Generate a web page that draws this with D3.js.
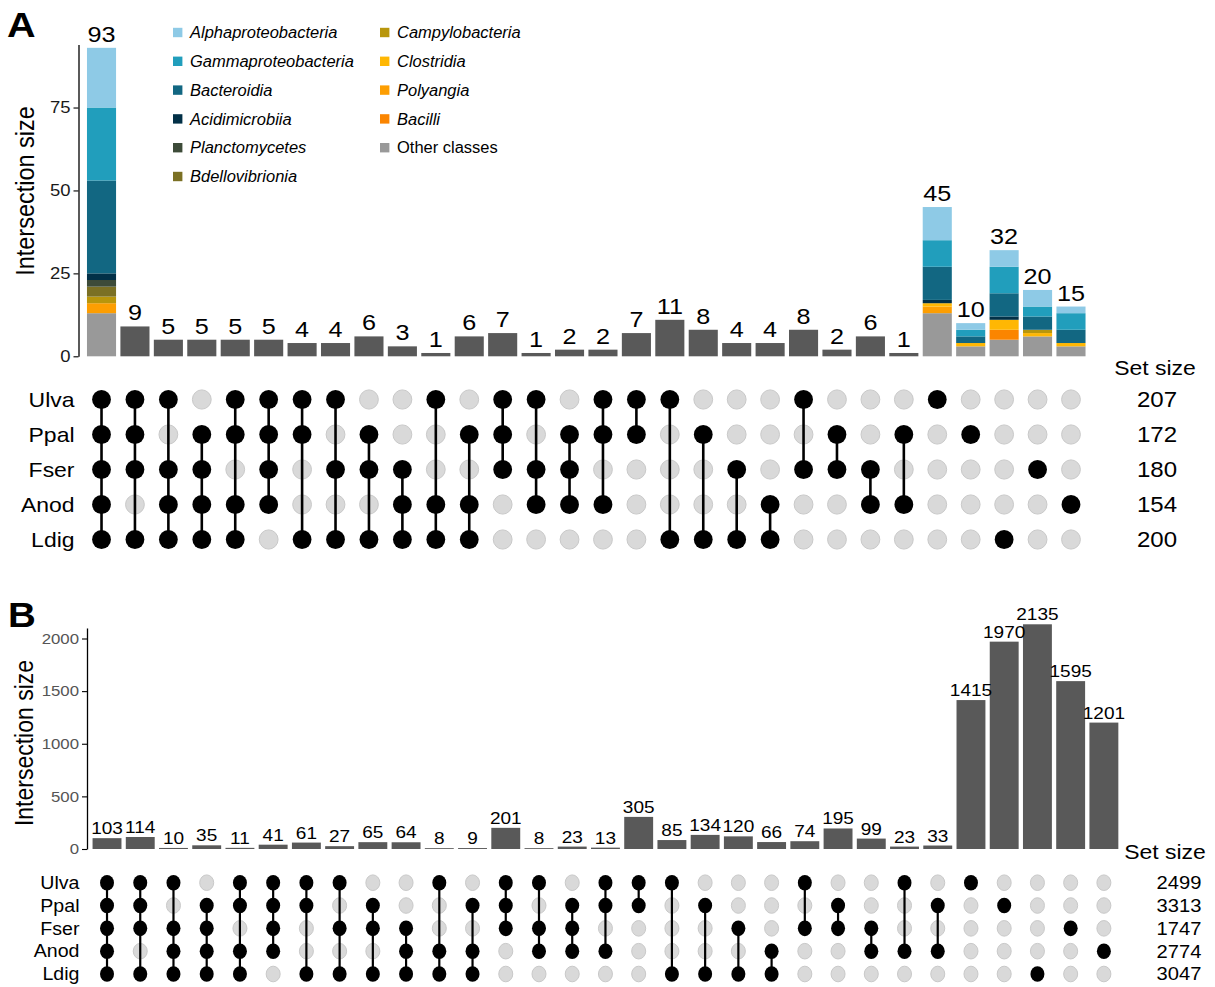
<!DOCTYPE html>
<html>
<head>
<meta charset="utf-8">
<script src="https://cdn.jsdelivr.net/npm/d3@7"></script>
<style>
  body { margin: 0; background: #fff; }
  text { font-family: "Liberation Sans", Arial, Helvetica, sans-serif; }
</style>
</head>
<body>
<svg id="fig" width="1215" height="987"></svg>
<script>
// ---------- data ----------
const sets = ["Ulva", "Ppal", "Fser", "Anod", "Ldig"];
const setSizeA = [207, 172, 180, 154, 200];
const setSizeB = [2499, 3313, 1747, 2774, 3047];

// intersections, left to right (shared multi-set part)
const multiCombos = [
  "Ulva&Ppal&Fser&Anod&Ldig", "Ulva&Ppal&Fser&Ldig", "Ulva&Fser&Anod&Ldig",
  "Ppal&Fser&Anod&Ldig", "Ulva&Ppal&Anod&Ldig", "Ulva&Ppal&Fser&Anod",
  "Ulva&Ppal&Ldig", "Ulva&Fser&Ldig", "Ppal&Fser&Ldig", "Fser&Anod&Ldig",
  "Ulva&Anod&Ldig", "Ppal&Anod&Ldig", "Ulva&Ppal&Fser", "Ulva&Fser&Anod",
  "Ppal&Fser&Anod", "Ulva&Ppal&Anod"
];
const combosA = multiCombos.concat([
  "Ulva&Ppal", "Ulva&Ldig", "Ppal&Ldig", "Fser&Ldig", "Anod&Ldig",
  "Ulva&Fser", "Ppal&Fser", "Fser&Anod", "Ppal&Anod",
  "Ulva", "Ppal", "Ldig", "Fser", "Anod"
]);
const countsA = [93, 9, 5, 5, 5, 5, 4, 4, 6, 3, 1, 6, 7, 1, 2, 2,
                 7, 11, 8, 4, 4, 8, 2, 6, 1, 45, 10, 32, 20, 15];

const combosB = multiCombos.concat([
  "Ulva&Ppal", "Ulva&Ldig", "Ppal&Ldig", "Fser&Ldig", "Anod&Ldig",
  "Ulva&Fser", "Ppal&Fser", "Fser&Anod", "Ulva&Anod", "Ppal&Anod",
  "Ulva", "Ppal", "Ldig", "Fser", "Anod"
]);
const countsB = [103, 114, 10, 35, 11, 41, 61, 27, 65, 64, 8, 9, 201, 8, 23, 13,
                 305, 85, 134, 120, 66, 74, 195, 99, 23, 33,
                 1415, 1970, 2135, 1595, 1201];

// taxonomic composition of the coloured bars in panel A
const classNames = ["Alphaproteobacteria", "Gammaproteobacteria", "Bacteroidia",
  "Acidimicrobiia", "Planctomycetes", "Bdellovibrionia", "Campylobacteria",
  "Clostridia", "Polyangia", "Bacilli", "Other classes"];
const classColors = ["#8ecae6", "#219ebc", "#126782", "#023047", "#3d4b39",
  "#7b7024", "#b8960c", "#ffb703", "#fd9e02", "#fb8500", "#999999"];
const stackedCols = [0, 25, 26, 27, 28, 29];
const alphaproteobacteria = [18, 10, 2, 5, 5, 2];
const gammaproteobacteria = [22, 8, 2, 8, 3, 5];
const bacteroidia        = [28, 10, 2, 7, 4, 4];
const acidimicrobiia     = [2, 1, 0, 1, 0, 0];
const planctomycetes     = [2, 0, 0, 0, 0, 0];
const bdellovibrionia    = [3, 0, 0, 0, 0, 0];
const campylobacteria    = [2, 0, 0, 0, 1, 0];
const clostridia         = [0, 1, 1, 3, 1, 1];
const polyangia          = [3, 2, 0, 0, 0, 0];
const bacilli            = [0, 0, 0, 3, 0, 0];
const otherClasses       = [13, 13, 3, 5, 6, 3];

const ticksA = [0, 25, 50, 75];
const ticksB = [0, 500, 1000, 1500, 2000];

// ---------- helpers ----------
const svg = d3.select("#fig");
const SX = 1.12;   // horizontal text stretch of the figure
const BAR = "#595959";

function txt(g, x, y, s, size, anchor, opts = {}) {
  const rot = opts.rotate ? ` rotate(${opts.rotate})` : "";
  const sx = opts.sx === undefined ? SX : opts.sx;
  return g.append("text")
    .attr("transform", `translate(${x},${y}) scale(${sx},1)${rot}`)
    .attr("text-anchor", anchor)
    .style("font-size", size + "px")
    .style("font-style", opts.italic ? "italic" : "normal")
    .style("font-weight", opts.bold ? "bold" : "normal")
    .attr("fill", opts.fill || "#000")
    .text(s);
}

function upset(cfg) {
  const g = svg.append("g");
  const n = cfg.combos.length;
  const x = d3.scaleBand().domain(d3.range(n)).range(cfg.xRange)
    .paddingInner(0.13).paddingOuter(0.065);
  const y = d3.scaleLinear().domain(cfg.yDomain).range(cfg.yRange);
  const row = d3.scalePoint().domain(sets).range(cfg.rowRange);
  const bw = x.bandwidth();

  // y axis
  const ax = g.append("g").attr("transform", `translate(${cfg.axisX},0)`)
    .call(d3.axisLeft(y).tickValues(cfg.ticks).tickSize(5).tickSizeOuter(0).tickFormat(d3.format("d")));
  ax.select(".domain").attr("stroke", "#000").attr("stroke-width", 1.3);
  ax.selectAll(".tick line").attr("stroke", "#000").attr("stroke-width", 1.1);
  ax.selectAll(".tick text")
    .attr("x", -8 / SX).attr("transform", `scale(${SX},1)`)
    .attr("fill", cfg.tickColor)
    .style("font-size", cfg.tickSize + "px")
    .style("font-family", '"Liberation Sans", Arial, sans-serif');

  txt(g, cfg.yLabelX, cfg.yLabelY, "Intersection size", cfg.yLabelSize, "middle", { rotate: -90 });

  // plain bars
  g.append("g").selectAll("rect")
    .data(cfg.counts.map((v, i) => ({ v, i })).filter(d => !(cfg.stacked && cfg.stacked.cols.includes(d.i))))
    .join("rect")
    .attr("x", d => x(d.i)).attr("width", bw)
    .attr("y", d => y(d.v)).attr("height", d => y(0) - y(d.v))
    .attr("fill", BAR);

  // stacked bars
  if (cfg.stacked) {
    const st = cfg.stacked;
    const table = st.cols.map((c, j) => {
      const o = { col: c };
      st.keys.forEach((k, ki) => { o[k] = st.values[ki][j]; });
      return o;
    });
    const keysBottomUp = st.keys.slice().reverse();
    const series = d3.stack().keys(keysBottomUp)(table);
    g.append("g").selectAll("g").data(series).join("g")
      .attr("fill", s => st.colors[st.keys.indexOf(s.key)])
      .selectAll("rect").data(s => s).join("rect")
      .attr("x", d => x(d.data.col)).attr("width", bw)
      .attr("y", d => y(d[1])).attr("height", d => y(d[0]) - y(d[1]));
  }

  // bar labels
  cfg.counts.forEach((v, i) => {
    txt(g, x(i) + bw / 2, y(v) - cfg.labelGap, String(v), cfg.labelSize, "middle");
  });

  // matrix
  const member = cfg.combos.map(c => c.split("&"));
  const dots = [];
  member.forEach((m, i) => sets.forEach(s => dots.push({ i, s, on: m.includes(s) })));
  const mg = g.append("g");
  mg.selectAll("ellipse.off").data(dots.filter(d => !d.on)).join("ellipse")
    .attr("class", "off")
    .attr("cx", d => x(d.i) + bw / 2).attr("cy", d => row(d.s))
    .attr("rx", cfg.rx).attr("ry", cfg.ry)
    .attr("fill", "#d9d9d9").attr("stroke", "#c9c9c9").attr("stroke-width", 1);
  mg.selectAll("line").data(member.map((m, i) => ({ i, m })).filter(d => d.m.length > 1)).join("line")
    .attr("x1", d => x(d.i) + bw / 2).attr("x2", d => x(d.i) + bw / 2)
    .attr("y1", d => d3.min(d.m, s => row(s))).attr("y2", d => d3.max(d.m, s => row(s)))
    .attr("stroke", "#000").attr("stroke-width", cfg.lineW);
  mg.selectAll("ellipse.on").data(dots.filter(d => d.on)).join("ellipse")
    .attr("class", "on")
    .attr("cx", d => x(d.i) + bw / 2).attr("cy", d => row(d.s))
    .attr("rx", cfg.rx).attr("ry", cfg.ry)
    .attr("fill", "#000");

  // set names and sizes
  sets.forEach((s, k) => {
    txt(g, cfg.setLabelX, row(s) + cfg.setLabelSize * 0.36, s, cfg.setLabelSize, "end");
    txt(g, cfg.sizeX, row(s) + cfg.sizeSize * 0.36, String(cfg.setSizes[k]), cfg.sizeSize, "middle");
  });
  txt(g, cfg.sizeTitleX, cfg.sizeTitleY, "Set size", cfg.sizeTitleSize, "middle");
  txt(g, cfg.tagX, cfg.tagY, cfg.tag, cfg.tagSize, "start", { bold: true, sx: 1.1 });
  return g;
}

// ---------- panel A ----------
upset({
  tag: "A", tagX: 7, tagY: 37, tagSize: 36,
  combos: combosA, counts: countsA, setSizes: setSizeA,
  xRange: [84.8, 1087.7],
  yDomain: [0, 94], yRange: [356.3, 356.3 - 94 * 3.317],
  axisX: 78.5, ticks: ticksA, tickSize: 16.5, tickColor: "#1a1a1a",
  yLabelX: 34, yLabelY: 191, yLabelSize: 23.5,
  labelSize: 22.5, labelGap: 6,
  rowRange: [399.5, 539.5], rx: 9.4, ry: 9.6, lineW: 2.6,
  setLabelX: 74.5, setLabelSize: 20.5,
  sizeX: 1157, sizeSize: 21.5,
  sizeTitleX: 1155, sizeTitleY: 375, sizeTitleSize: 20.5,
  stacked: {
    cols: stackedCols, keys: classNames, colors: classColors,
    values: [alphaproteobacteria, gammaproteobacteria, bacteroidia, acidimicrobiia,
             planctomycetes, bdellovibrionia, campylobacteria, clostridia,
             polyangia, bacilli, otherClasses]
  }
});

// legend for panel A
const leg = svg.append("g");
const legCols = [[0, 1, 2, 3, 4, 5], [6, 7, 8, 9, 10]];
const legX = [173, 380];
legCols.forEach((idx, c) => {
  idx.forEach((k, r) => {
    const yy = 32.5 + r * 28.8;
    leg.append("rect").attr("x", legX[c]).attr("y", yy - 4.7)
      .attr("width", 9.4).attr("height", 9.4).attr("fill", classColors[k]);
    txt(leg, legX[c] + 17, yy + 5.6, classNames[k], 16, "start",
        { italic: classNames[k] !== "Other classes", sx: 1.03 });
  });
});

// ---------- panel B ----------
upset({
  tag: "B", tagX: 8, tagY: 627, tagSize: 35,
  combos: combosB, counts: countsB, setSizes: setSizeB,
  xRange: [90.4, 1120.5],
  yDomain: [0, 2100], yRange: [849, 849 - 2100 * 0.10525],
  axisX: 87, ticks: ticksB, tickSize: 15, tickColor: "#555",
  yLabelX: 33, yLabelY: 743, yLabelSize: 23,
  labelSize: 17, labelGap: 4,
  rowRange: [882.7, 974], rx: 7, ry: 7.8, lineW: 2.2,
  setLabelX: 79.5, setLabelSize: 17.5,
  sizeX: 1179, sizeSize: 18,
  sizeTitleX: 1165, sizeTitleY: 859, sizeTitleSize: 20.5
});
</script>
</body>
</html>
